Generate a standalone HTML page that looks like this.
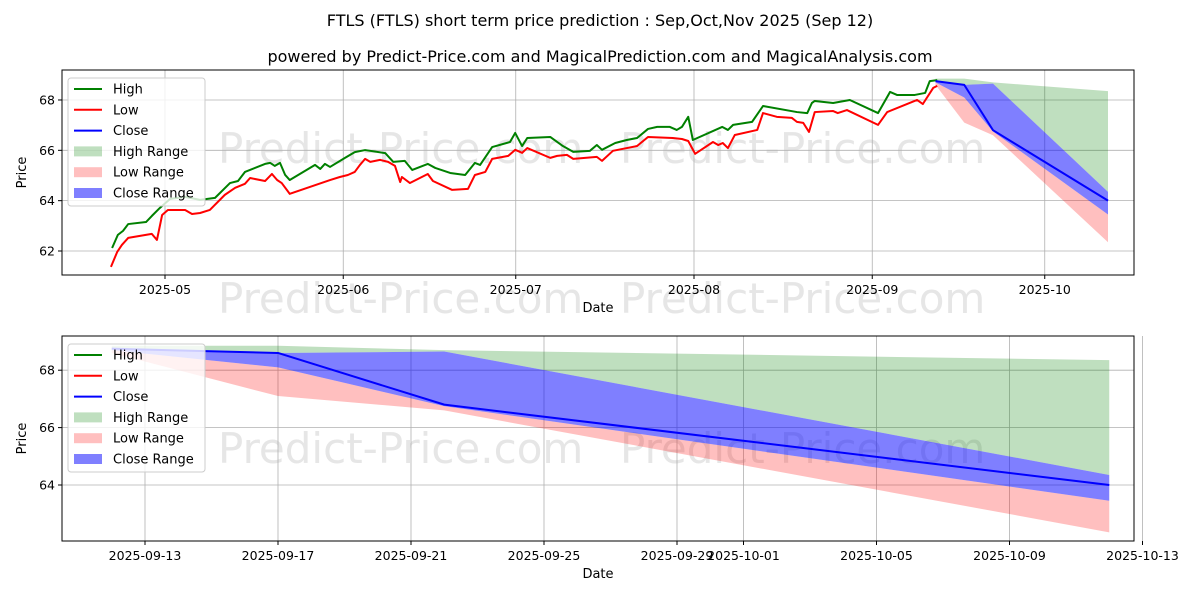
<!DOCTYPE html>
<html><head><meta charset="utf-8"><style>
body{margin:0;background:#fff;}
svg{display:block;font-family:"DejaVu Sans","Liberation Sans",sans-serif;}
</style></head><body>
<svg id="c" width="1200" height="600" viewBox="0 0 1200 600" xmlns="http://www.w3.org/2000/svg">
<text x="600" y="26" text-anchor="middle" font-size="16">FTLS (FTLS) short term price prediction : Sep,Oct,Nov 2025 (Sep 12)</text>
<text x="600" y="62" text-anchor="middle" font-size="16">powered by Predict-Price.com and MagicalPrediction.com and MagicalAnalysis.com</text>
</svg>
<script>
// days since 2025-05-01
const highDays=[-9.2,-8.2,-7.3,-6.4,-3.3,-2.3,-0.9,0.9,3.5,6.1,8.7,11.3,12.7,13.9,17.4,18.3,19.1,20,20.9,21.7,26.1,27,27.8,28.7,31.3,33,34.8,38.3,39.7,41.7,43,45.7,47,49.6,52.2,53.9,54.8,56.9,60,60.9,62.1,63,67,69.2,71,73.9,75.1,76,78.3,80.3,82.1,84,85.6,87.8,89,89.9,91,91.8,96.9,97.9,98.8,102.1,104,109.9,111.7,112.5,113,116.2,119.1,124,126.1,127.3,130.4,132.2,133,134.3];
const highVals=[62.12,62.64,62.80,63.07,63.15,63.39,63.71,64.07,64.15,64.03,64.11,64.70,64.78,65.14,65.46,65.50,65.38,65.50,65.02,64.82,65.42,65.26,65.46,65.34,65.70,65.93,66.01,65.89,65.54,65.58,65.22,65.46,65.30,65.10,65.02,65.50,65.42,66.13,66.33,66.69,66.17,66.49,66.53,66.17,65.94,65.98,66.21,66.02,66.29,66.41,66.49,66.85,66.93,66.93,66.81,66.93,67.33,66.41,66.93,66.81,67.01,67.13,67.76,67.52,67.48,67.88,67.96,67.88,68.00,67.48,68.32,68.20,68.20,68.28,68.75,68.79];
const lowDays=[-9.4,-8.3,-7.5,-6.4,-2.3,-1.4,-0.5,0.5,3.5,4.7,6.1,7.8,10.4,12.2,13.9,14.8,17.4,18.6,19.5,20.3,21.7,28.7,30.4,31.8,33,33.9,34.8,35.7,37.4,38.8,40,40.9,41.2,42.6,45.7,46.6,49.9,52.7,53.9,55.7,56.9,59.7,60.9,62.1,63,67,68.2,69.9,71,75.1,76,77.9,82.1,84,88.3,89.9,91,92.2,95.3,96.2,97,97.9,99.1,103,104,106.4,109,109.9,111,112,113,116.2,117,118.6,124,125.6,130.8,131.8,133.6,134.3];
const lowVals=[61.37,61.97,62.24,62.52,62.68,62.44,63.43,63.63,63.63,63.47,63.51,63.63,64.23,64.51,64.67,64.90,64.78,65.06,64.82,64.70,64.27,64.82,64.94,65.02,65.14,65.42,65.66,65.54,65.62,65.54,65.38,64.74,64.94,64.70,65.06,64.78,64.43,64.47,65.02,65.14,65.66,65.78,66.02,65.90,66.09,65.70,65.78,65.82,65.66,65.74,65.58,65.98,66.17,66.53,66.49,66.45,66.37,65.86,66.33,66.21,66.29,66.09,66.61,66.81,67.48,67.33,67.29,67.13,67.09,66.73,67.52,67.56,67.48,67.60,67.01,67.52,68.00,67.84,68.48,68.56];
// forecast: Sep12, Sep17, Sep22, Oct12
const fcDays=[134,139,144,164];
const fcClose=[68.75,68.6,66.8,64.0];
const fcHighUp=[68.85,68.85,68.7,68.35];
const fcHighLo=[68.75,68.6,68.65,64.35];
const fcCloseUp=[68.75,68.6,68.65,64.35];
const fcCloseLo=[68.7,68.1,66.75,63.45];
const fcLowUp=[68.7,68.1,66.75,63.45];
const fcLowLo=[68.6,67.1,66.6,62.35];
const topXTicks=[[0,'2025-05'],[31,'2025-06'],[61,'2025-07'],[92,'2025-08'],[123,'2025-09'],[153,'2025-10']];
const topYTicks=[62,64,66,68];
const botXTicks=[[135,'2025-09-13'],[139,'2025-09-17'],[143,'2025-09-21'],[147,'2025-09-25'],[151,'2025-09-29'],[153,'2025-10-01'],[157,'2025-10-05'],[161,'2025-10-09'],[165,'2025-10-13']];
const botYTicks=[64,66,68];

const NS='http://www.w3.org/2000/svg';
const svg=document.getElementById('c');
function mk(tag,attrs,parent){const e=document.createElementNS(NS,tag);for(const k in attrs)e.setAttribute(k,attrs[k]);(parent||svg).appendChild(e);return e;}

function panel(p){
  const g=mk('g',{});
  
  
  const X=d=>p.x0+(d-p.d0)*p.dx;
  const Y=v=>p.yb-(v-p.v0)*p.dy;
  // watermarks
  p.wm.forEach(w=>{const t=mk('text',{x:w[0],y:w[1],'font-size':42,fill:'#e6e6e6'},g);t.textContent='Predict-Price.com';
    });
  // grid
  p.xt.forEach(t=>{const l=mk('line',{x1:X(t[0]),x2:X(t[0]),y1:p.top,y2:p.bot,stroke:'#b0b0b0','stroke-width':0.8},g);
    });
  p.yt.forEach(v=>{const l=mk('line',{x1:p.L,x2:p.R,y1:Y(v),y2:Y(v),stroke:'#b0b0b0','stroke-width':0.8},g);
    });
  const band=(up,lo,col,nm)=>{let d='';fcDays.forEach((dd,i)=>d+=(i?'L':'M')+X(dd)+','+Y(up[i]));
    for(let i=fcDays.length-1;i>=0;i--)d+='L'+X(fcDays[i])+','+Y(lo[i]);
    const e=mk('path',{d:d+'Z',fill:col,stroke:'none'},g);};
  band(fcHighUp,fcHighLo,'rgba(0,128,0,0.25)','high-range-band');
  band(fcLowUp,fcLowLo,'rgba(255,0,0,0.25)','low-range-band');
  band(fcCloseUp,fcCloseLo,'rgba(0,0,255,0.5)','close-range-band');
  const line=(ds,vs,col,nm)=>{const pts=ds.map((d,i)=>X(d)+','+Y(vs[i])).join(' ');
    const e=mk('polyline',{points:pts,fill:'none',stroke:col,'stroke-width':2,'stroke-linejoin':'round'},g);
    };
  if(p.hist){line(highDays,highVals,'#008000','high-line');line(lowDays,lowVals,'#ff0000','low-line');}
  line(fcDays,fcClose,'#0000ff','close-line');
  // frame
  const fr=mk('rect',{x:p.L,y:p.top,width:p.R-p.L,height:p.bot-p.top,fill:'none',stroke:'#000','stroke-width':1},g);
  
  p.xt.forEach(t=>{mk('line',{x1:X(t[0]),x2:X(t[0]),y1:p.bot,y2:p.bot+4,stroke:'#000'},g);
    const e=mk('text',{x:X(t[0]),y:p.bot+19,'text-anchor':'middle','font-size':12.5},g);e.textContent=t[1];
    });
  p.yt.forEach(v=>{mk('line',{x1:p.L-4,x2:p.L,y1:Y(v),y2:Y(v),stroke:'#000'},g);
    const e=mk('text',{x:p.L-7,y:Y(v)+4.5,'text-anchor':'end','font-size':12.5},g);e.textContent=v;
    });
  const xl=mk('text',{x:(p.L+p.R)/2,y:p.bot+37,'text-anchor':'middle','font-size':13},g);xl.textContent='Date';
  
  const yl=mk('text',{x:26,y:(p.top+p.bot)/2,'text-anchor':'middle','font-size':13,transform:`rotate(-90 26 ${(p.top+p.bot)/2})`},g);yl.textContent='Price';
  
  // legend
  const lg=mk('g',{},g);
  mk('rect',{x:68,y:p.top+8,width:137,height:128,rx:3,fill:'rgba(255,255,255,0.8)',stroke:'#ccc'},lg);
  const items=[['High','line','#008000'],['Low','line','#ff0000'],['Close','line','#0000ff'],['High Range','box','rgba(0,128,0,0.25)'],['Low Range','box','rgba(255,0,0,0.25)'],['Close Range','box','rgba(0,0,255,0.5)']];
  items.forEach((it,i)=>{const y=p.top+19+i*20.8;
    const eg=mk('g',{},lg);
    if(it[1]=='line')mk('line',{x1:74,x2:102,y1:y,y2:y,stroke:it[2],'stroke-width':2},eg);
    else mk('rect',{x:74,y:y-5,width:28,height:10,fill:it[2]},eg);
    const t=mk('text',{x:113,y:y+4.5,'font-size':13},eg);t.textContent=it[0];});
}
panel({name:'history-panel',L:62,R:1134,top:70,bot:275,x0:165,d0:0,dx:5.75,yb:251,v0:62,dy:25.17,xt:topXTicks,yt:topYTicks,hist:true,wm:[[218,163],[620,163],[218,313],[620,313]]});
panel({name:'forecast-panel',L:62,R:1134,top:336,bot:541,x0:145,d0:135,dx:33.25,yb:485,v0:64,dy:28.7,xt:botXTicks,yt:botYTicks,hist:false,wm:[[218,463],[620,463]]});
</script>
</body></html>
